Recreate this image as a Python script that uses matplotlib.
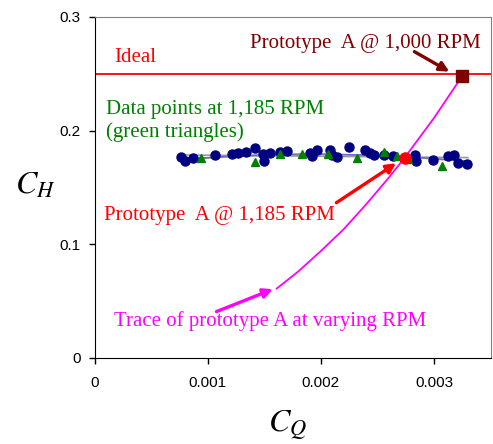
import matplotlib
matplotlib.use("Agg")
import matplotlib.pyplot as plt

# measured points at 1,185 RPM (blue dots)
blue_cq = [0.00076, 0.00080, 0.00087, 0.00106, 0.00121, 0.00127, 0.00134, 0.00142,
           0.00149, 0.00150, 0.00155, 0.00164, 0.00170, 0.00190, 0.00192, 0.00197,
           0.00208, 0.00210, 0.00214, 0.00225, 0.00239, 0.00243, 0.00247, 0.00256,
           0.00264, 0.00283, 0.00284, 0.00299, 0.00312, 0.00318, 0.00321, 0.00329]
blue_ch = [0.1770, 0.1732, 0.1760, 0.1784, 0.1790, 0.1799, 0.1814, 0.1843,
           0.1792, 0.1734, 0.1800, 0.1810, 0.1821, 0.1800, 0.1777, 0.1830,
           0.1830, 0.1786, 0.1766, 0.1858, 0.1830, 0.1806, 0.1786, 0.1786,
           0.1777, 0.1786, 0.1735, 0.1741, 0.1775, 0.1788, 0.1715, 0.1706]

# green triangles
tri_cq = [0.00094, 0.00142, 0.00164, 0.00183, 0.00206, 0.00232, 0.00256, 0.00267, 0.00277, 0.00307]
tri_ch = [0.1755, 0.1721, 0.1795, 0.1795, 0.1795, 0.1762, 0.1810, 0.1777, 0.1748, 0.1689]

# fit lines
fit_lin_cq = [0.00076, 0.00330]
fit_lin_ch = [0.1785, 0.1762]
fit_cur_cq = [0.00076, 0.00120, 0.00160, 0.00200, 0.00240, 0.00280, 0.00330]
fit_cur_ch = [0.1742, 0.1770, 0.1786, 0.1790, 0.1782, 0.1765, 0.1728]
fit_blu_cq = [0.00076, 0.00120, 0.00160, 0.00200, 0.00240, 0.00280, 0.00330]
fit_blu_ch = [0.1748, 0.1776, 0.1792, 0.1795, 0.1786, 0.1768, 0.1732]

# trace of prototype A at varying RPM
trace_cq = [0.00161, 0.00180, 0.00200, 0.00220, 0.00240, 0.00260, 0.00274, 0.00300, 0.00325]
trace_ch = [0.0610, 0.0760, 0.0940, 0.1130, 0.1350, 0.1585, 0.1760, 0.2110, 0.2480]

ideal_ch = 0.25
proto_1185 = (0.00274, 0.176)
proto_1000 = (0.00325, 0.248)

serif = ['Liberation Serif', 'DejaVu Serif']
plt.rcParams['font.family'] = ['Liberation Sans', 'DejaVu Sans']
plt.rcParams['mathtext.fontset'] = 'stix'

fig = plt.figure(figsize=(4.93, 4.44), dpi=100)
ax = fig.add_axes([0.192, 0.194, 0.803, 0.768])

ax.axhline(ideal_ch, color='red', lw=1.3, zorder=2)
ax.plot(fit_lin_cq, fit_lin_ch, color='#999999', lw=1.2, zorder=3)
ax.plot(fit_cur_cq, fit_cur_ch, color='#888888', lw=1.2, zorder=3)
ax.plot(fit_blu_cq, fit_blu_ch, color='#6666dd', lw=0.8, zorder=3)
ax.plot(blue_cq, blue_ch, 'o', color='#000080', ms=6.5, mec='#000080', zorder=4)
ax.plot(tri_cq, tri_ch, '^', color='#008000', ms=6, zorder=5)
ax.plot(trace_cq, trace_ch, color='#ff00ff', lw=1.3, zorder=6)
ax.plot(*proto_1185, 'o', color='red', ms=8, zorder=7)
ax.plot(*proto_1000, 's', color='#800000', ms=8, zorder=7)

ax.set_xlim(0, 0.0035)
ax.set_ylim(0, 0.3)
ax.set_xticks([0, 0.001, 0.002, 0.003])
ax.set_xticklabels(['0', '0.001', '0.002', '0.003'])
ax.set_yticks([0, 0.1, 0.2, 0.3])
ax.set_yticklabels(['0', '0.1', '0.2', '0.3'])
ax.tick_params(labelsize=11, length=4, width=1, pad=6)
ax.tick_params(axis='x', pad=9)

ax.spines['top'].set_color('#808080')
ax.spines['right'].set_color('#808080')
for s in ['left', 'bottom']:
    ax.spines[s].set_color('black')

ax.set_xlabel(r'$C_Q$', fontsize=23, va='center')
ax.set_ylabel(r'$C_H$', fontsize=23, rotation=0, va='center', ha='center')
ax.xaxis.set_label_coords(0.486, -0.195)
ax.yaxis.set_label_coords(-0.15, 0.505)

# annotations
arrow_kw = dict(arrowstyle='-|>', lw=2.4, mutation_scale=14, shrinkA=0, shrinkB=0)
ax.text(0.00017, 0.2645, 'Ideal', color='red', fontsize=15, family=serif, va='center')
ax.text(0.00137, 0.2765, 'Prototype  A @ 1,000 RPM', color='#800000', fontsize=15,
        family=serif, va='center')
ax.annotate('', xy=(0.003136, 0.2518), xytext=(0.002827, 0.2694),
            arrowprops=dict(color='#800000', **arrow_kw))
ax.text(0.0001, 0.2085, 'Data points at 1,185 RPM\n(green triangles)', color='#008000',
        fontsize=15, family=serif, va='center', linespacing=1.25)
ax.text(0.00008, 0.1255, 'Prototype  A @ 1,185 RPM', color='red', fontsize=15,
        family=serif, va='center')
ax.annotate('', xy=(0.002665, 0.1712), xytext=(0.002137, 0.1365),
            arrowprops=dict(color='red', **arrow_kw))
ax.text(0.00017, 0.0325, 'Trace of prototype A at varying RPM', color='#ff00ff',
        fontsize=15, family=serif, va='center')
ax.annotate('', xy=(0.001576, 0.0604), xytext=(0.001077, 0.0407),
            arrowprops=dict(color='#ff00ff', **arrow_kw))

fig.savefig('out.png', dpi=100)
